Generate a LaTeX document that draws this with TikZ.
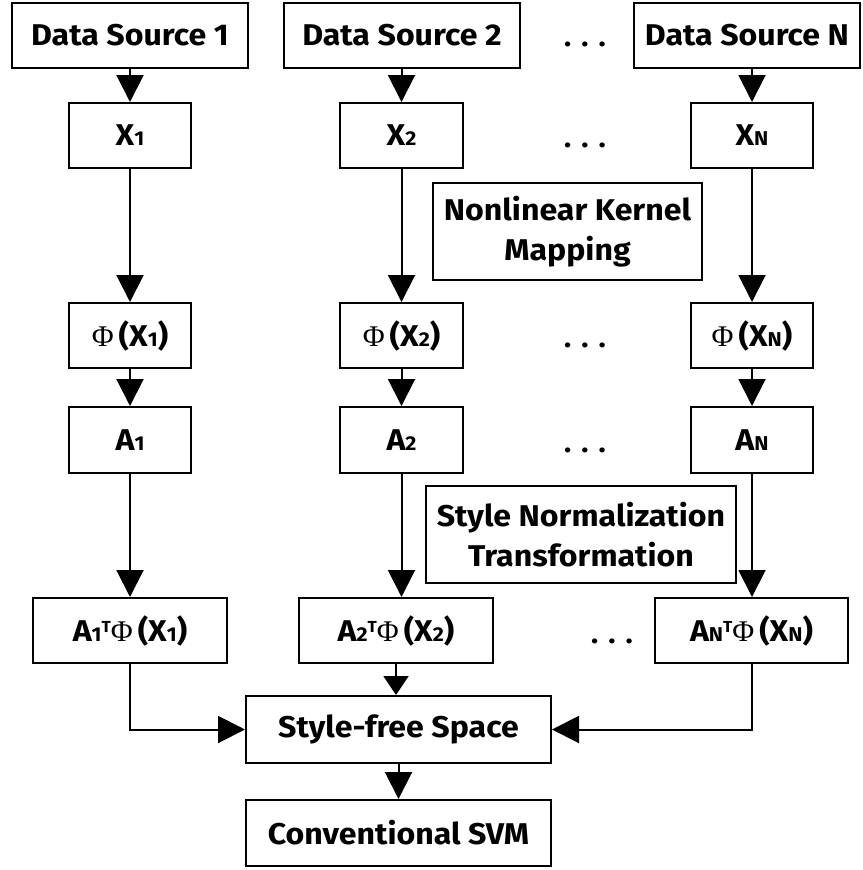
\documentclass[tikz,border=0pt]{standalone}
\usepackage{fontspec}
\setmainfont{Fira Sans}[FakeStretch=1.07]
\newfontfamily\phifont{Liberation Serif}
\usetikzlibrary{arrows.meta}
% small figures sitting on the baseline, a small raised T, and a serif capital phi
\newcommand{\lowsub}[1]{{\fontsize{20}{20}\selectfont #1}}
\newcommand{\suptee}{\raisebox{9pt}{\fontsize{16}{16}\selectfont T}}
\newcommand{\bigphi}{{\phifont\mdseries\fontsize{30}{30}\selectfont Φ}}
\begin{document}
\begin{tikzpicture}[x=1pt,y=-1pt,
  box/.style={draw=black, line width=2pt, inner sep=0pt, align=center,
    font=\fontsize{30}{40}\selectfont\bfseries, minimum height=65pt},
  dots/.style={anchor=base, inner sep=0pt, font=\fontsize{28}{28}\selectfont\bfseries},
  arr/.style={line width=2pt, -{Triangle[width=27pt,length=27pt]}},
  arrs/.style={line width=2pt, -{Triangle[width=25pt,length=19pt]}}]
\useasboundingbox (0,0) rectangle (862,870);

% data sources
\node[box, minimum width=236pt] (ds1) at (130,35.5) {Data Source 1};
\node[box, minimum width=236pt] (ds2) at (402,35.5) {Data Source 2};
\node[box, minimum width=226pt] (dsN) at (747,35.5) {Data Source N};

% raw inputs
\node[box, minimum width=122pt] (x1) at (130,135.5) {X\lowsub{1}};
\node[box, minimum width=123pt] (x2) at (401.5,135.5) {X\lowsub{2}};
\node[box, minimum width=122pt] (xN) at (752,135.5) {X\lowsub{N}};

% kernel mapping label
\node[box, minimum width=269pt, minimum height=97pt] (nlk) at (567.5,231.5) {Nonlinear Kernel\\Mapping};

% mapped inputs
\node[box, minimum width=122pt] (p1) at (130,335.5) {\bigphi\,(X\lowsub{1})};
\node[box, minimum width=123pt] (p2) at (401.5,335.5) {\bigphi\,(X\lowsub{2})};
\node[box, minimum width=122pt] (pN) at (752,335.5) {\bigphi\,(X\lowsub{N})};

% transformation matrices
\node[box, minimum width=122pt, minimum height=66pt] (a1) at (130,440) {A\lowsub{1}};
\node[box, minimum width=123pt, minimum height=66pt] (a2) at (401.5,440) {A\lowsub{2}};
\node[box, minimum width=122pt, minimum height=66pt] (aN) at (752,440) {A\lowsub{N}};

% normalization label
\node[box, minimum width=310pt, minimum height=97pt] (snt) at (581,534.5) {Style Normalization\\Transformation};

% projected data
\node[box, minimum width=194pt] (t1) at (130,630.5) {A\lowsub{1}\suptee\bigphi\,(X\lowsub{1})};
\node[box, minimum width=194pt] (t2) at (396,630.5) {A\lowsub{2}\suptee\bigphi\,(X\lowsub{2})};
\node[box, minimum width=193pt] (tN) at (751.5,630.5) {A\lowsub{N}\suptee\bigphi\,(X\lowsub{N})};

% common space and classifier
\node[box, minimum width=305pt, minimum height=67pt] (sfs) at (398.5,729.5) {Style-free Space};
\node[box, minimum width=305pt, minimum height=66pt] (svm) at (398.5,833) {Conventional SVM};

% ellipses between columns
\node[dots] (d1) at (585,46) {.\hspace{10pt}.\hspace{10pt}.};
\node[dots] (d2) at (585,147) {.\hspace{10pt}.\hspace{10pt}.};
\node[dots] (d3) at (585,347) {.\hspace{10pt}.\hspace{10pt}.};
\node[dots] (d4) at (585,452) {.\hspace{10pt}.\hspace{10pt}.};
\node[dots] (d5) at (612,643) {.\hspace{10pt}.\hspace{10pt}.};

% connectors
\draw[arr] (ds1) -- (x1);
\draw[arr] (ds2.south -| x2) -- (x2);
\draw[arr] (dsN.south -| xN) -- (xN);
\draw[arr] (x1) -- (p1);
\draw[arr] (x2) -- (p2);
\draw[arr] (xN) -- (pN);
\draw[arr] (p1) -- (a1);
\draw[arr] (p2) -- (a2);
\draw[arr] (pN) -- (aN);
\draw[arr] (a1) -- (t1);
\draw[arr] (a2.south) -- (a2.south |- t2.north);
\draw[arr] (aN.south) -- (aN.south |- tN.north);
\draw[arr] (t1.south) |- (sfs.west);
\draw[arrs] (t2.south) -- (t2.south |- sfs.north);
\draw[arr] (tN.south) |- (sfs.east);
\draw[arr] (sfs) -- (svm);
\end{tikzpicture}
\end{document}
